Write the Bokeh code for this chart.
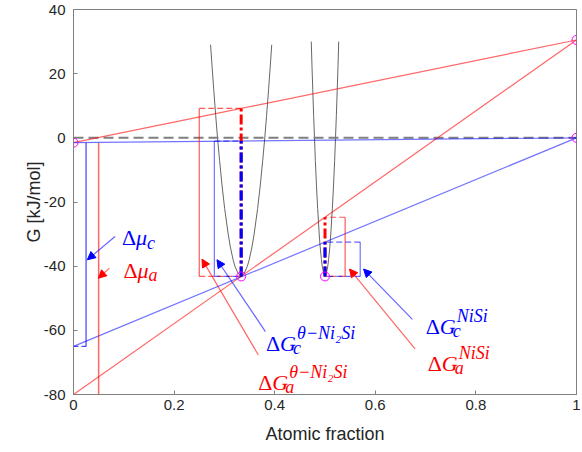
from bokeh.plotting import figure
from bokeh.models import Range1d, Arrow, NormalHead, ColumnDataSource
from bokeh.core.properties import value
from bokeh.embed import file_html
from bokeh.resources import INLINE

# ---------------- data ----------------
x_ticks = [0, 0.2, 0.4, 0.6, 0.8, 1]
x_tick_labels = ["0", "0.2", "0.4", "0.6", "0.8", "1"]
y_ticks = [-80, -60, -40, -20, 0, 20, 40]
y_tick_labels = ["-80", "-60", "-40", "-20", "0", "20", "40"]

# straight lines between pure-element ends (x = 0 and x = 1)
end_x = [0, 1]
zero_y = [0, 0]
blue_upper_y = [-1.5, 0]
red_upper_y = [-1.5, 30.5]
blue_lower_y = [-65, 0]
red_lower_y = [-80, 30.5]

# marked points
pt_x = [0, 1 / 3, 0.5, 1, 1]
pt_y = [-1.5, -43.2, -43.2, 0, 30.5]

# Gibbs energy curves
ni2si_x = [0.2725, 0.2756, 0.2788, 0.2827, 0.2863, 0.2904, 0.2954, 0.3005, 0.3075,
           0.3118, 0.3173, 0.3209, 0.3273, 0.3333, 0.3393, 0.3457, 0.3493, 0.3548,
           0.3591, 0.3661, 0.3712, 0.3762, 0.3803, 0.3839, 0.3878, 0.3910, 0.3941]
ni2si_y = [29, 22, 15, 7, 0, -7, -15, -22, -30, -34, -38, -40, -42.3, -43.2,
           -42.3, -40, -38, -34, -30, -22, -15, -7, 0, 7, 15, 22, 29]
nisi_x = [0.4727, 0.4742, 0.4757, 0.4774, 0.4791, 0.4808, 0.4831, 0.4854, 0.4885,
          0.4904, 0.4929, 0.4945, 0.4973, 0.5, 0.5027, 0.5055, 0.5071, 0.5096,
          0.5115, 0.5146, 0.5169, 0.5192, 0.5209, 0.5226, 0.5243, 0.5258, 0.5273]
nisi_y = [30, 22, 15, 7, 0, -7, -15, -22, -30, -34, -38, -40, -42.3, -43.2,
          -42.3, -40, -38, -34, -30, -22, -15, -7, 0, 7, 15, 22, 30]

# chemical potential brackets at x = 0
mu_bar_x = [0.025, 0.05]
mu_bar_top = [-1.5, -1.5]
mu_bar_bot = [-65, -80]
mu_colors = ["blue", "red"]

# driving force boxes for the two phases
phase_x = [1 / 3, 0.5]
g_min = [-43.2, -43.2]
gc_top = [-1.0, -32.5]
ga_top = [9.17, -24.75]
gc_box_x = [0.28, 0.57]
ga_box_x = [0.25, 0.54]

# annotation arrows (tail -> head)
arr_x0 = [0.0827, 0.0713, 0.3815, 0.3675, 0.6737, 0.679]
arr_y0 = [-30.75, -40.6, -60.4, -67.7, -56.6, -65.8]
arr_x1 = [0.0275, 0.0494, 0.2853, 0.2554, 0.5767, 0.5488]
arr_y1 = [-38.0, -43.75, -38.0, -37.8, -40.9, -40.9]
arr_colors = ["blue", "red", "blue", "red", "blue", "red"]

# labels
lab_delta = ["Δ", "Δ", "Δ", "Δ", "Δ", "Δ"]
lab_main = ["μ", "μ", "G", "G", "G", "G"]
lab_sub = ["c", "a", "c", "a", "c", "a"]
lab_sup = ["", "", "θ−Ni₂Si", "θ−Ni₂Si", "NiSi", "NiSi"]
lab_x = [0.0966, 0.0992, 0.3829, 0.3675, 0.7002, 0.7042]
lab_y = [-31.2, -41.2, -64.0, -76.2, -58.7, -70.2]
lab_colors = ["blue", "red", "blue", "red", "blue", "red"]

# ---------------- figure ----------------
p = figure(width=580, height=448, output_backend="svg", toolbar_location=None,
           x_range=Range1d(0, 1), y_range=Range1d(-80, 40),
           min_border_left=73, min_border_right=4, min_border_top=9, min_border_bottom=54)
p.xgrid.visible = False
p.ygrid.visible = False
p.outline_line_color = "#808080"
p.outline_line_width = 1
p.background_fill_color = "white"

AX = "#808080"
TXT = "#262626"
for ax in (p.xaxis[0], p.yaxis[0]):
    ax.axis_line_color = AX
    ax.major_tick_line_color = AX
    ax.major_tick_in = 4
    ax.major_tick_out = 0
    ax.minor_tick_line_color = None
    ax.major_label_text_font = "Liberation Sans"
    ax.major_label_text_font_size = "15px"
    ax.major_label_text_color = TXT
    ax.axis_label_text_font = "Liberation Sans"
    ax.axis_label_text_font_size = "18px"
    ax.axis_label_text_font_style = "normal"
    ax.axis_label_text_color = TXT

p.xaxis.ticker = x_ticks
p.xaxis.major_label_overrides = {t: s for t, s in zip(x_ticks, x_tick_labels)}
p.yaxis.ticker = y_ticks
p.yaxis.major_label_overrides = {t: s for t, s in zip(y_ticks, y_tick_labels)}
p.xaxis.axis_label = "Atomic fraction"
p.yaxis.axis_label = "G [kJ/mol]"
p.xaxis.major_label_standoff = 5
p.yaxis.major_label_standoff = 8
p.xaxis.axis_label_standoff = 11
p.yaxis.axis_label_standoff = -3

# curves
p.line(ni2si_x, ni2si_y, line_color="#666666", line_width=1)
p.line(nisi_x, nisi_y, line_color="#666666", line_width=1)

# reference and tangent lines
p.line(end_x, zero_y, line_color="#7f7f7f", line_width=2, line_dash="10 5")
p.line(end_x, red_upper_y, line_color="red", line_alpha=0.6, line_width=1.2)
p.line(end_x, red_lower_y, line_color="red", line_alpha=0.6, line_width=1.2)
p.line(end_x, blue_upper_y, line_color="blue", line_alpha=0.55, line_width=1.2)
p.line(end_x, blue_lower_y, line_color="blue", line_alpha=0.55, line_width=1.2)

# chemical potential brackets
zeros = [0] * len(mu_bar_x)
p.segment(x0=mu_bar_x, y0=mu_bar_top, x1=mu_bar_x, y1=mu_bar_bot,
          line_color=mu_colors, line_alpha=0.6, line_width=1.5)
p.segment(x0=zeros, y0=mu_bar_bot, x1=mu_bar_x, y1=mu_bar_bot,
          line_color=mu_colors, line_alpha=0.7, line_width=1.2, line_dash="5 3")

# driving force boxes
p.segment(x0=ga_box_x, y0=g_min, x1=ga_box_x, y1=ga_top, line_color="red", line_alpha=0.65, line_width=1.2)
p.segment(x0=ga_box_x, y0=ga_top, x1=phase_x, y1=ga_top, line_color="red", line_alpha=0.65,
          line_width=1.2, line_dash="6 3")
p.segment(x0=ga_box_x, y0=g_min, x1=phase_x, y1=g_min, line_color="red", line_alpha=0.65,
          line_width=1.2, line_dash="6 3")
p.segment(x0=gc_box_x, y0=g_min, x1=gc_box_x, y1=gc_top, line_color="blue", line_alpha=0.55, line_width=1.2)
p.segment(x0=gc_box_x, y0=gc_top, x1=phase_x, y1=gc_top, line_color="blue", line_alpha=0.6,
          line_width=1.2, line_dash="6 3")
p.segment(x0=gc_box_x, y0=g_min, x1=phase_x, y1=g_min, line_color="blue", line_alpha=0.6,
          line_width=1.2, line_dash="6 3")

# driving force bars
p.segment(x0=phase_x, y0=g_min, x1=phase_x, y1=ga_top, line_color="red", line_width=3,
          line_dash="10 3 3 3")
p.segment(x0=phase_x, y0=g_min, x1=phase_x, y1=gc_top, line_color="blue", line_width=3,
          line_dash="10 3 3 3")

# points
p.scatter(pt_x, pt_y, marker="circle", size=9, fill_color=None, line_color="magenta", line_width=1)

# arrows
for x0, y0, x1, y1, c in zip(arr_x0, arr_y0, arr_x1, arr_y1, arr_colors):
    p.add_layout(Arrow(x_start=x0, y_start=y0, x_end=x1, y_end=y1,
                       line_color=c, line_alpha=0.6, line_width=1.2,
                       end=NormalHead(size=8, fill_color=c, line_color=c, line_width=1)))

# labels
sub_dx = [25 if m == "μ" else 27 for m in lab_main]
src = ColumnDataSource(dict(x=lab_x, y=lab_y, delta=lab_delta, main=lab_main, sub=lab_sub,
                            sup=lab_sup, color=lab_colors, sub_dx=sub_dx))
common = dict(x="x", y="y", source=src, text_color="color", text_font=value("Liberation Serif"),
              text_baseline="alphabetic", text_align="left")
p.text(text="delta", text_font_style="normal", text_font_size="22px", **common)
p.text(text="main", text_font_style="italic", text_font_size="22px", x_offset=14, **common)
p.text(text="sub", text_font_style="italic", text_font_size="18px", x_offset="sub_dx", y_offset=5, **common)
p.text(text="sup", text_font_style="italic", text_font_size="18px", x_offset=31, y_offset=-10, **common)

open("out.html", "w").write(file_html(p, INLINE))
